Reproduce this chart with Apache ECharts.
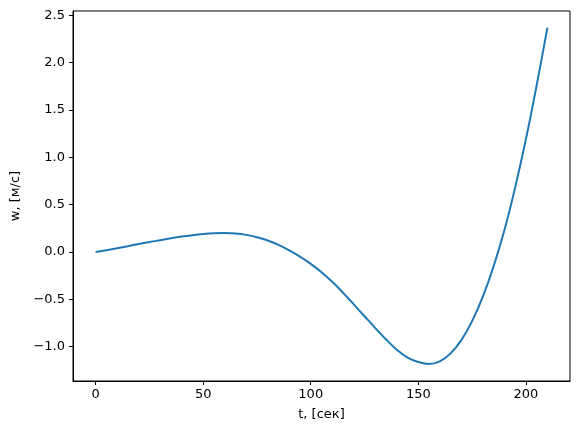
<!DOCTYPE html>
<html>
<head>
<meta charset="utf-8">
<script src="https://cdn.jsdelivr.net/npm/echarts@6/dist/echarts.min.js"></script>
<style>html,body{margin:0;padding:0;background:#fff;}#c{width:578px;height:434px;}</style>
</head>
<body>
<div id="c"></div>
<script>
const tValues = [0, 5, 10, 15, 20, 25, 30, 35, 40, 45, 50, 55, 60, 65, 70, 75, 80, 85, 90, 95, 100, 105, 110, 115, 120, 125, 130, 135, 140, 145, 150, 155, 160, 165, 170, 175, 180, 185, 190, 195, 200, 205, 210];
const wValues = [0, 0.019, 0.04, 0.062, 0.084, 0.105, 0.125, 0.145, 0.163, 0.178, 0.19, 0.198, 0.2, 0.195, 0.181, 0.156, 0.121, 0.075, 0.018, -0.048, -0.125, -0.213, -0.315, -0.43, -0.553, -0.678, -0.803, -0.923, -1.033, -1.115, -1.162, -1.183, -1.155, -1.07, -0.93, -0.73, -0.47, -0.15, 0.23, 0.68, 1.19, 1.76, 2.37];
const xTicks = [0, 50, 100, 150, 200];
const yTicks = [-1.0, -0.5, 0.0, 0.5, 1.0, 1.5, 2.0, 2.5];
const xName = 't, [сек]';
const yName = 'w, [м/с]';

const font = 'DejaVu Sans';
const chart = echarts.init(document.getElementById('c'));
chart.setOption({
  animation: false,
  backgroundColor: '#fff',
  grid: { left: 73, right: 8, top: 11, bottom: 53, show: true, borderColor: '#000', borderWidth: 1, backgroundColor: 'transparent' },
  xAxis: {
    type: 'value', min: -10.5, max: 220.5,
    name: xName, nameLocation: 'middle', nameGap: 27,
    nameTextStyle: { fontFamily: font, fontSize: 13, color: '#000' },
    axisLine: { show: true, onZero: false, lineStyle: { color: '#000', width: 1 } },
    axisTick: { show: true, length: 4, inside: false, customValues: xTicks, lineStyle: { color: '#000' } },
    axisLabel: { customValues: xTicks, margin: 7, fontFamily: font, fontSize: 13, color: '#000', formatter: v => String(v) },
    splitLine: { show: false }
  },
  yAxis: {
    type: 'value', min: -1.362, max: 2.545,
    name: yName, nameLocation: 'middle', nameGap: 50, nameRotate: 90,
    nameTextStyle: { fontFamily: font, fontSize: 13, color: '#000' },
    axisLine: { show: true, onZero: false, lineStyle: { color: '#000', width: 1 } },
    axisTick: { show: true, length: 4, inside: false, customValues: yTicks, lineStyle: { color: '#000' } },
    axisLabel: { customValues: yTicks, margin: 8, fontFamily: font, fontSize: 13, color: '#000', formatter: v => v.toFixed(1).replace('-', '\u2212') },
    splitLine: { show: false }
  },
  series: [{
    type: 'line',
    data: tValues.map((t, i) => [t, wValues[i]]),
    smooth: 0.3,
    showSymbol: false,
    lineStyle: { color: '#1f77b4', width: 2 },
    itemStyle: { color: '#1f77b4' }
  }]
});
</script>
</body>
</html>
